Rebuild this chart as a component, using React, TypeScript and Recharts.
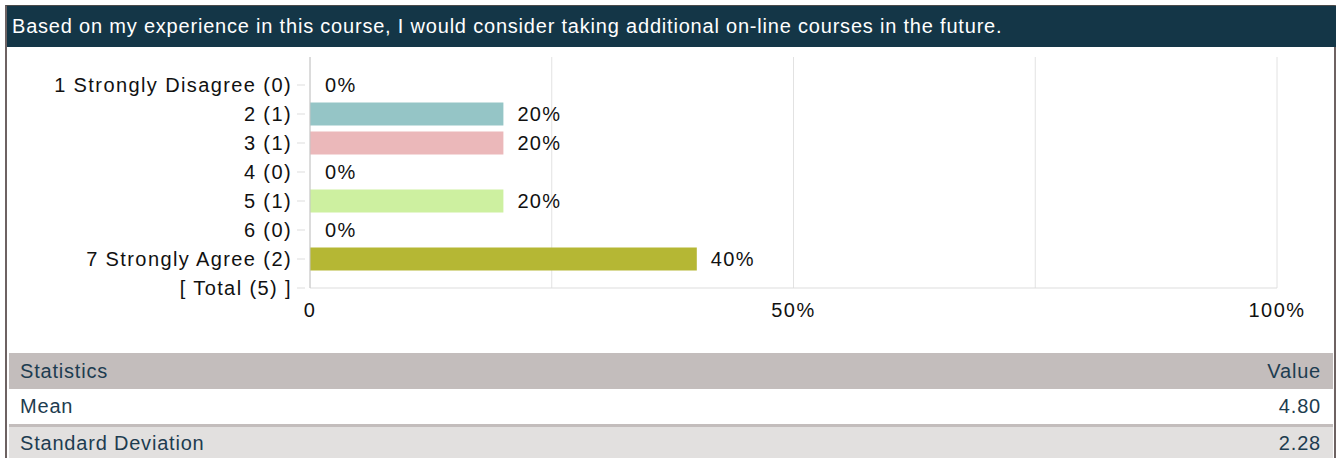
import { Bar, BarChart, CartesianGrid, Cell, LabelList, XAxis, YAxis } from "recharts";

const title =
  "Based on my experience in this course, I would consider taking additional on-line courses in the future.";

const categories = [
  "1 Strongly Disagree (0)",
  "2 (1)",
  "3 (1)",
  "4 (0)",
  "5 (1)",
  "6 (0)",
  "7 Strongly Agree (2)",
  "[ Total (5) ]",
];
const percents: (number | null)[] = [0, 20, 20, 0, 20, 0, 40, null];
const barColors = ["#95c5c6", "#95c5c6", "#ebb8ba", "#ebb8ba", "#cdf0a0", "#cdf0a0", "#b5b734", "#b5b734"];
const xTicks = [0, 25, 50, 75, 100];

const stats = [
  { label: "Mean", value: "4.80" },
  { label: "Standard Deviation", value: "2.28" },
];

const FONT = "'Liberation Sans', Arial, sans-serif";
const TEXT = "#1d3c50";

const data = categories.map((name, i) => ({ name, value: percents[i] }));

function CategoryTick(props: any) {
  const { x, y, payload } = props;
  return (
    <g>
      <line x1={x - 13} x2={x - 5} y1={y} y2={y} stroke="#dddddd" />
      <text
        x={x - 18}
        y={y}
        dy="0.355em"
        textAnchor="end"
        fill="#111"
        fontSize={20}
        fontFamily={FONT}
        letterSpacing={1.4}
      >
        {payload.value}
      </text>
    </g>
  );
}

export default function App() {
  return (
    <div
      style={{
        position: "absolute",
        left: 0,
        top: 0,
        width: 1336,
        height: 458,
        overflow: "hidden",
        background: "#fff",
        fontFamily: FONT,
      }}
    >
      {/* frame */}
      <div
        style={{
          position: "absolute",
          left: 5,
          top: 5,
          width: 1331,
          height: 460,
          boxSizing: "border-box",
          borderLeft: "2px solid #6d6262",
          borderRight: "2px solid #6d6262",
          borderTop: "1px solid #4a4a4a",
        }}
      />
      <div
        style={{
          position: "absolute",
          left: 7,
          top: 6,
          width: 1329,
          height: 41,
          background: "#143647",
          color: "#fff",
          fontSize: 20,
          display: "flex",
          alignItems: "center",
          paddingLeft: 5,
          boxSizing: "border-box",
          letterSpacing: 0.8,
          whiteSpace: "nowrap",
        }}
      >
        {title}
      </div>

      <div style={{ position: "absolute", left: 0, top: 47 }}>
        <BarChart
          layout="vertical"
          width={1336}
          height={303}
          data={data}
          margin={{ top: 10, right: 59, bottom: 22, left: 0 }}
        >
          <CartesianGrid horizontal={false} stroke="#e2e2e2" />
          <XAxis
            type="number"
            domain={[0, 100]}
            ticks={xTicks}
            height={40}
            tickLine={false}
            tickSize={0}
            tickMargin={15}
            axisLine={{ stroke: "#dddddd" }}
            tickFormatter={(v: number) => (v === 0 ? "0" : v % 50 === 0 ? `${v}%` : "")}
            tick={{ fill: "#111", fontSize: 20, fontFamily: FONT, letterSpacing: 1.5 }}
          />
          <YAxis
            type="category"
            dataKey="name"
            scale="point"
            width={310}
            padding={{ top: 28, bottom: 0 }}
            tickSize={0}
            tickMargin={0}
            tickLine={false}
            axisLine={{ stroke: "#c6c6c6" }}
            interval={0}
            tick={<CategoryTick />}
          />
          <Bar dataKey="value" barSize={23} minPointSize={1} isAnimationActive={false}>
            {data.map((d, i) => (
              <Cell key={d.name} fill={d.value ? barColors[i] : "none"} />
            ))}
            <LabelList
              dataKey="value"
              position="right"
              offset={14}
              fill="#111"
              fontSize={20}
              fontFamily={FONT}
              letterSpacing={1.3}
              formatter={(v: any) => (v === null || v === undefined ? "" : `${v}%`)}
            />
          </Bar>
        </BarChart>
      </div>

      {/* statistics table */}
      <div
        style={{
          position: "absolute",
          left: 9,
          top: 353,
          width: 1324,
          color: TEXT,
          fontSize: 20,
          letterSpacing: 0.8,
        }}
      >
        <div
          style={{
            height: 36,
            background: "#c3bdbc",
            display: "flex",
            alignItems: "center",
            justifyContent: "space-between",
            padding: "0 12px 0 11px",
          }}
        >
          <span>Statistics</span>
          <span>Value</span>
        </div>
        {stats.map((s, i) => (
          <div
            key={s.label}
            style={{
              height: i === 0 ? 35 : 32,
              background: i === 0 ? "#ffffff" : "#e2e0df",
              borderTop: i === 0 ? "none" : "3px solid #c3bdbc",
              display: "flex",
              alignItems: "center",
              justifyContent: "space-between",
              padding: "0 12px 0 11px",
            }}
          >
            <span>{s.label}</span>
            <span>{s.value}</span>
          </div>
        ))}
      </div>
    </div>
  );
}
